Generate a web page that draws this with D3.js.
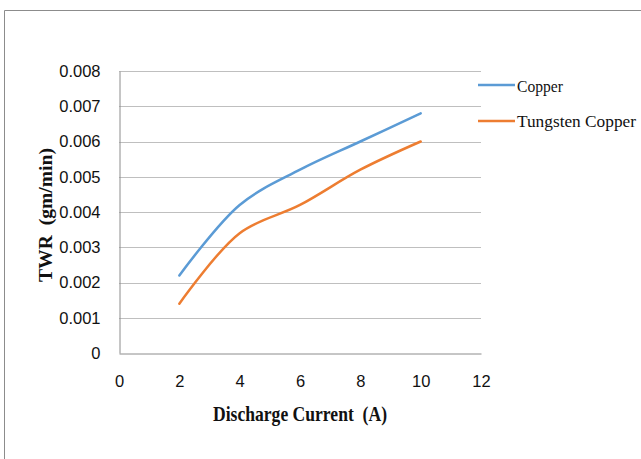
<!DOCTYPE html>
<html><head><meta charset="utf-8">
<script src="https://cdn.jsdelivr.net/npm/d3@7"></script>
<style>body{margin:0;background:#fff}svg{display:block}</style>
</head><body>
<svg id="c" width="641" height="459"></svg>
<script>
const xValues = [2, 4, 6, 8, 10];
const copper = [0.0022, 0.0042, 0.0052, 0.0060, 0.0068];
const tungstenCopper = [0.0014, 0.0034, 0.0042, 0.0052, 0.0060];
const seriesNames = ["Copper", "Tungsten Copper"];
const seriesColors = ["#5b9bd5", "#ed7d31"];
const xTicks = [0, 2, 4, 6, 8, 10, 12];
const yTicks = [0, 0.001, 0.002, 0.003, 0.004, 0.005, 0.006, 0.007, 0.008];
const xTitle = "Discharge Current  (A)";
const yTitle = "TWR  (gm/min)";

const svg = d3.select("#c");
const serif = "Liberation Serif, Times New Roman, serif";
const sans = "Liberation Sans, Arial, sans-serif";

// outer frame (top and left)
svg.append("line").attr("x1", 4.5).attr("x2", 641).attr("y1", 10.5).attr("y2", 10.5).attr("stroke", "#8c8c8c");
svg.append("line").attr("x1", 4.5).attr("x2", 4.5).attr("y1", 10.5).attr("y2", 459).attr("stroke", "#8c8c8c");

const x = d3.scaleLinear().domain([0, 12]).range([119, 481]);
const y = d3.scaleLinear().domain([0, 0.008]).range([353, 71]);

// gridlines
svg.append("g").selectAll("line").data(yTicks.filter(d => d > 0)).join("line")
  .attr("x1", x(0)).attr("x2", x(12))
  .attr("y1", d => Math.round(y(d)) + 0.5).attr("y2", d => Math.round(y(d)) + 0.5)
  .attr("stroke", "#bfbfbf");

// y axis
const yAxis = d3.axisLeft(y).tickValues(yTicks).tickSize(0).tickPadding(19)
  .tickFormat(d => d === 0 ? "0" : d3.format(".3f")(d));
const ya = svg.append("g").attr("transform", "translate(119.5,0)").call(yAxis);
ya.select(".domain").attr("stroke", "#8c8c8c");
ya.selectAll("text").attr("font-family", sans).attr("font-size", 16.5).attr("fill", "#111");

// x axis
const xAxis = d3.axisBottom(x).tickValues(xTicks).tickSize(0).tickPadding(22);
const xa = svg.append("g").attr("transform", "translate(0,353.5)").call(xAxis);
xa.select(".domain").attr("stroke", "#8c8c8c");
xa.selectAll("text").attr("font-family", sans).attr("font-size", 16.5).attr("fill", "#111");

// lines
const line = d3.line().x(d => x(d[0])).y(d => y(d[1])).curve(d3.curveCatmullRom.alpha(0.5));
[copper, tungstenCopper].forEach((vals, i) => {
  svg.append("path").datum(xValues.map((v, j) => [v, vals[j]]))
    .attr("d", line).attr("fill", "none").attr("stroke", seriesColors[i])
    .attr("stroke-width", 2.5).attr("stroke-linecap", "round");
});

// legend
const legendLineY = [85, 121];
const legendTextY = [92.3, 127];
const legendWidths = [46, 119];
seriesNames.forEach((name, i) => {
  svg.append("line").attr("x1", 478).attr("x2", 515).attr("y1", legendLineY[i]).attr("y2", legendLineY[i])
    .attr("stroke", seriesColors[i]).attr("stroke-width", 2.5);
  svg.append("text").attr("x", 517).attr("y", legendTextY[i]).text(name)
    .attr("font-family", serif).attr("font-size", 17.5).attr("fill", "#111")
    .attr("textLength", legendWidths[i]).attr("lengthAdjust", "spacingAndGlyphs");
});

// titles
svg.append("text").attr("x", 300).attr("y", 420.5).attr("text-anchor", "middle")
  .attr("font-family", serif).attr("font-weight", "bold")
  .attr("font-size", 21).attr("fill", "#111").style("white-space", "pre")
  .attr("textLength", 174).attr("lengthAdjust", "spacingAndGlyphs").text(xTitle);
svg.append("text").attr("transform", "translate(52,215) rotate(-90)").attr("text-anchor", "middle")
  .attr("font-family", serif).attr("font-weight", "bold")
  .attr("font-size", 19).attr("fill", "#111").style("white-space", "pre")
  .attr("textLength", 134).attr("lengthAdjust", "spacingAndGlyphs").text(yTitle);
</script>
</body></html>
